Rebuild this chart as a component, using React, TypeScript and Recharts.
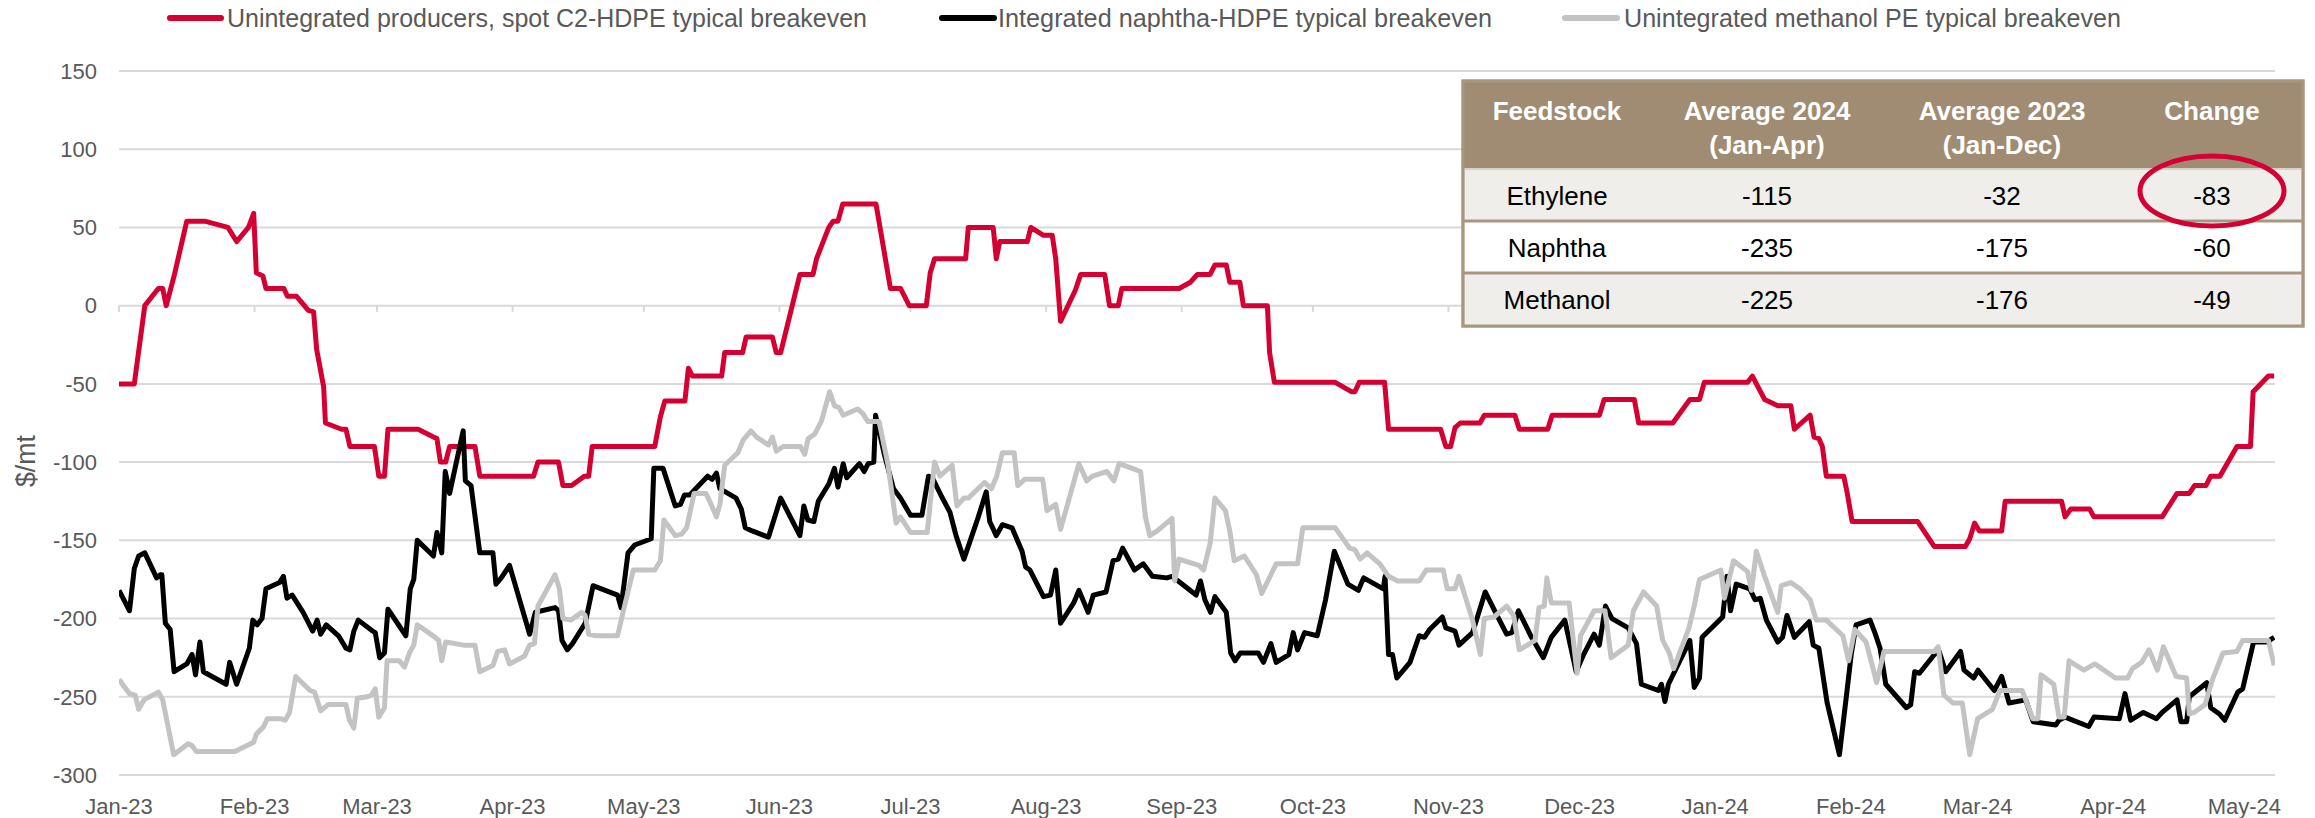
import React from 'react';
import { LineChart, Line, XAxis, YAxis, CartesianGrid, ReferenceLine } from 'recharts';

// x = days since 2023-01-01, y = $/mt
const MONTH_LABELS = ['Jan-23','Feb-23','Mar-23','Apr-23','May-23','Jun-23','Jul-23','Aug-23','Sep-23','Oct-23','Nov-23','Dec-23','Jan-24','Feb-24','Mar-24','Apr-24','May-24'];
const MONTH_DAYS = [0,31,59,90,120,151,181,212,243,273,304,334,365,396,425,456,486];
const Y_TICKS = [-300,-250,-200,-150,-100,-50,0,50,100,150];

const SERIES_NAMES = ['Unintegrated producers, spot C2-HDPE typical breakeven','Integrated naphtha-HDPE typical breakeven','Unintegrated methanol PE typical breakeven'];

const RED: [number, number][] = [
[0,-50],[3.5,-50],[5.9,0],[9,11],[10,11],[10.8,0],[12.6,19],[15.5,54],[19.6,54],[24.9,50],[26.9,41],[29.6,50],[30.8,59],[31.4,21],[32.9,19],[33.6,11],[37.7,11],[38.5,6],[40.6,6],[43.3,-3],[44.5,-4],[45.2,-28],[46.8,-52],[47.2,-75],[50.9,-79],[51.9,-79],[52.8,-90],[58.4,-90],[59.4,-109],[60.7,-109],[61.5,-79],[68.4,-79],[71.9,-84],[72.7,-85],[73.5,-100],[74.7,-100],[75.6,-90],[81.4,-90],[82.5,-109],[94.8,-109],[95.8,-100],[100.5,-100],[101.5,-115],[103.5,-115],[106.4,-109],[107.4,-109],[108.2,-90],[122.5,-90],
[123.8,-71],[124.8,-61],[129.4,-61],[130.2,-40],[131.1,-45],[137.8,-45],[138.5,-30],[142.6,-30],[143.4,-20],[149.4,-20],[150.3,-30],[151.3,-30],[155.7,20],[158.7,20],[159.5,30],[162.3,50],[163.3,54],[164.4,54],[165.5,65],[173.1,65],[176.4,11],[178.7,11],[180.7,0],[184.6,0],[185.5,21],[186.5,30],[193.6,30],[194.2,50],[199.9,50],[200.6,30],[201.4,41],[207.7,41],[208.5,50],[211.4,45],[213.4,45],[214.2,30],[215.3,-10],[218.7,10],[219.9,20],[225.4,20],[226.5,0],[228.5,0],[229.3,11],[242.4,11],
[245,15],[246.6,20],[249.5,20],[250.6,26],[253.2,26],[254,15],[256.3,15],[257.1,0],[262.6,0],[263.1,-30],[264.2,-49],[278.1,-49],[281.8,-55],[282.6,-55],[283.6,-49],[289.4,-49],[290.3,-79],[302.2,-79],[303.4,-90],[304.5,-90],[305.5,-78],[306.7,-75],[311.2,-75],[312.2,-70],[319.2,-70],[320.2,-79],[326.7,-79],[327.7,-70],[338.5,-70],[339.6,-60],[346.5,-60],[347.5,-75],[355.3,-75],[359.2,-60],[361.4,-60],[362.5,-49],
[372.4,-49],[373.5,-45],[374.6,-51],[376.3,-60],[379.3,-64],[382.3,-64],[383.1,-79],[386.7,-70],[387.6,-84],[388.7,-85],[389.5,-90],[390.4,-109],[394.4,-109],[395.2,-120],[396.3,-138],[411.3,-138],[415.1,-154],[422.2,-154],[423.2,-149],[424.3,-139],[425.4,-144],[430.5,-144],[431.3,-125],[444.2,-125],[445,-135],[446.3,-130],[450.6,-130],[451.6,-135],[467.2,-135],[470.6,-120],[473.4,-120],[474.6,-115],[477.2,-115],[478.3,-109],[480.4,-109],[484.3,-90],[487.4,-90],[488,-55],[491.5,-45],[492.8,-45]
];

const BLACK: [number, number][] = [
[0,-182],[2.4,-195],[3.5,-168],[4.5,-160],[5.9,-158],[8.6,-174],[9.4,-172],[9.8,-172],[10.6,-203],[11.7,-207],[12.6,-234],[15.5,-229],[16.7,-223],[17.5,-236],[18.5,-215],[19.3,-234],[24.5,-242],[25.3,-228],[26.9,-242],[29.8,-219],[30.6,-201],[31.6,-204],[32.7,-200],[33.6,-181],[36.7,-177],[37.6,-173],[38.4,-187],[39.6,-185],[42.1,-196],[44.3,-208],[45.3,-201],[46.1,-210],[47.4,-204],[50.2,-211],[51.9,-219],[52.8,-220],[53.7,-208],[54.7,-201],[58,-208],[58.6,-209],[59.6,-225],[60.7,-222],[61.5,-194],[65.6,-211],[66.6,-181],[67.4,-175],[68.2,-150],[71.9,-160],[72.7,-145],[73.8,-158],[74.6,-106],[75.6,-120],[78.7,-80],[79.2,-112],[80.5,-115],[82.5,-158],[85.5,-158],[86.2,-178],[87.4,-174],[89.3,-166],[93.9,-210],[95.2,-196],[99.7,-193],[100.5,-195],[101.3,-214],[102.5,-220],[103.7,-216],[106.6,-203],[108.4,-179],[110.3,-181],[114,-185],[114.8,-193],[116.4,-158],[117.9,-153],[121.7,-149],
[122.3,-104],[124.4,-104],[127.2,-128],[128.4,-127],[129.3,-121],[130.5,-121],[134.6,-109],[135.6,-111],[136.6,-107],[137.4,-117],[141.1,-123],[142.3,-130],[143.2,-142],[144.8,-144],[148.5,-148],[151.3,-123],[155.7,-147],[156.6,-128],[157.5,-137],[158.9,-138],[159.9,-125],[162.3,-114],[163.6,-104],[164.4,-116],[165.6,-101],[166.4,-110],[169.3,-101],[170.4,-106],[171.3,-101],[172.6,-100],[173,-70],[175,-95],[177.1,-117],[178.7,-123],[181,-134],[183.6,-134],[185.1,-109],[186,-110],[188.1,-122],[190,-132],[191.4,-147],[193.2,-162],[196.5,-135],[198.3,-119],[199.1,-138],[200.6,-147],[202,-140],[204.2,-142],[206.5,-157],[207.3,-167],[208.3,-169],[211.4,-186],[213,-185],[214.2,-169],[215.3,-203],[218.3,-190],[219.5,-182],[221.6,-196],[222.8,-185],[225.7,-183],[227.3,-163],[228.5,-162],[229.5,-155],[232.2,-169],[234.2,-165],[236.3,-173],[239.6,-174],[240.8,-173],[246.3,-185],[247.3,-176],[248.3,-188],[249.6,-196],
[250.6,-186],[253.2,-196],[254.2,-222],[255.2,-227],[256.4,-222],[260.5,-222],[261.7,-228],[263.4,-216],[264.6,-228],[267.5,-223],[268.5,-209],[269.5,-220],[271.1,-209],[274,-211],[275.9,-188],[277.9,-157],[281,-178],[283.4,-182],[284.6,-174],[289.1,-181],[289.5,-173],[290.3,-223],[291.2,-223],[292.2,-238],[295.2,-228],[297.3,-211],[298.5,-212],[299.7,-207],[302.6,-199],[303.4,-206],[305.5,-208],[306.4,-217],[309.5,-209],[312.4,-183],[315.1,-198],[317.3,-210],[318.5,-209],[320,-195],[323,-212],[325.7,-225],[327.5,-212],[330.6,-201],[333.2,-234],[334.9,-223],[337.3,-210],[338.5,-217],[339.9,-192],[341.4,-200],[345.1,-206],[347,-216],[348.1,-242],[352,-246],[352.7,-242],[353.5,-253],[354.3,-242],[359.2,-214],[360.2,-244],[361.4,-238],[362,-212],[366.7,-199],[367.7,-173],[368.5,-195],[369.8,-178],
[372.9,-181],[374.1,-188],[375.3,-187],[376.7,-201],[379.3,-215],[380.4,-212],[381.4,-198],[383.1,-212],[386.5,-202],[387.4,-217],[388.7,-219],[390.6,-254],[393.4,-287],[395.1,-247],[396.1,-223],[397.2,-204],[400.4,-201],[401.5,-209],[402.7,-219],[404,-242],[408.7,-257],[409.7,-255],[410.6,-234],[411.7,-235],[415.1,-223],[416.2,-221],[417.7,-234],[421.1,-221],[421.9,-233],[424.1,-238],[425.1,-233],[428.8,-246],[430.5,-237],[432.2,-254],[436,-252],[437.7,-266],[442.9,-268],[443.6,-265],[445,-263],[450.4,-269],[451.6,-263],[457.4,-264],[458.7,-248],[460,-265],[462.9,-260],[465.9,-264],[467.2,-260],[470.6,-252],[471.5,-266],[472.8,-266],[473.4,-250],[477.4,-241],[478.3,-257],[480.3,-261],[481.5,-265],[484.5,-247],[485.6,-245],[488.1,-215],[491.1,-215],[492.8,-212]
];

const GRAY: [number, number][] = [
[0,-239],[2.4,-248],[3.7,-249],[4.5,-258],[5.7,-252],[9,-247],[10,-252],[12.5,-287],[15.8,-280],[16.6,-281],[17.7,-285],[26.5,-285],[30.8,-279],[31.4,-274],[33.1,-269],[33.9,-264],[37,-264],[38,-265],[39,-260],[40.4,-237],[43.7,-246],[44.7,-247],[45.3,-252],[46.1,-259],[47.8,-255],[51.9,-255],[52.7,-265],[53.7,-270],[54.5,-251],[56.8,-250],[57.7,-249],[58.6,-245],[59.4,-263],[60.7,-257],[61.3,-227],[64.1,-227],[65.3,-231],[66.4,-222],[67.4,-217],[68.2,-204],[72.3,-212],[73.1,-214],[73.8,-227],[74.7,-215],[78.8,-217],[81.4,-217],[82.5,-234],[85.5,-230],[86.6,-221],[88.2,-220],[89.3,-229],[92.7,-224],[93.9,-217],[95,-216],[95.8,-192],[99.7,-172],[100.7,-181],[101.5,-200],[103.3,-201],[105.8,-196],[106.6,-198],[107.4,-210],[109.1,-211],[114,-211],[115.6,-192],[117.6,-169],[122.5,-169],
[123.8,-163],[124.6,-137],[127.2,-147],[128.7,-146],[129.8,-142],[131.5,-120],[134.2,-120],[135.4,-127],[136.6,-135],[137.4,-127],[138.5,-102],[141.5,-94],[142.7,-86],[144.5,-80],[145.8,-84],[148.5,-89],[149.4,-84],[150.3,-93],[151.9,-90],[155.8,-90],[156.8,-95],[157.6,-85],[159.1,-82],[160.6,-74],[162.5,-55],[163.6,-64],[164.6,-65],[165.6,-70],[168.9,-66],[170.1,-69],[171.2,-74],[173.8,-74],[175.8,-101],[177.7,-139],[178.7,-135],[181,-145],[184.8,-145],[186.5,-100],[187.7,-109],[190.5,-102],[191.6,-128],[193.2,-123],[194.2,-123],[197.9,-113],[199.5,-117],[200.7,-109],[202,-94],[204.7,-94],[205.5,-115],[207.1,-111],[211.2,-111],[212.2,-131],[214.2,-127],[215.3,-143],[219.5,-101],[221.3,-112],[222.6,-109],[225.9,-106],[227.5,-112],[228.7,-101],[232.6,-105],[233.6,-106],[234.7,-135],[235.7,-147],[237.4,-144],[240.8,-136],[241.4,-176],[242.4,-162],[246.9,-166],[248,-169],
[249.5,-152],[250.6,-123],[253,-131],[254,-144],[255,-163],[257.3,-160],[260.1,-172],[261.3,-184],[264.6,-165],[269.5,-165],[270.7,-142],[278.1,-142],[281.4,-155],[282.6,-156],[283.8,-162],[285.4,-158],[288.3,-165],[290.3,-173],[292.4,-176],[297.3,-176],[298.9,-169],[302.8,-169],[303.7,-181],[305.5,-181],[306.4,-173],[309.5,-201],[311.3,-223],[312.2,-200],[314.4,-199],[317.3,-192],[318.9,-198],[320.2,-220],[323.8,-214],[324.7,-193],[325.9,-192],[326.5,-174],[327.5,-190],[331.6,-190],[333.4,-235],[334.2,-211],[337.3,-195],[339.8,-195],[341.2,-225],[345.1,-217],[346.3,-195],[348.6,-183],[351.6,-192],[353,-214],[354.5,-222],[355.5,-232],[359,-206],[360.2,-192],[361.4,-175],[366.3,-169],[367.1,-187],[369.2,-163],
[372.4,-170],[373.3,-182],[374.4,-157],[376.3,-173],[379.3,-196],[380.1,-179],[382.3,-177],[384.4,-181],[386.7,-188],[388.1,-201],[390.4,-201],[394.2,-211],[395.5,-227],[396.9,-207],[399.5,-215],[400.9,-230],[401.9,-241],[403.6,-221],[415.1,-221],[416,-218],[417.3,-249],[419.4,-254],[421.5,-254],[423.2,-287],[425,-264],[428.4,-258],[430.1,-246],[435.2,-246],[437.6,-264],[438.8,-264],[439.5,-236],[442.4,-242],[443.6,-263],[444.8,-263],[445.9,-227],[449.3,-233],[451.8,-229],[456.5,-238],[459.3,-238],[460.4,-232],[462.5,-228],[464.2,-220],[466.1,-233],[467.5,-218],[470.4,-237],[472.8,-238],[473.4,-261],[474.5,-260],[477,-255],[478.7,-239],[481.1,-222],[484.3,-221],[485.6,-214],[491.5,-214],[492.8,-230]
];

const TABLE_HEADERS: string[][] = [['Feedstock'], ['Average 2024', '(Jan-Apr)'], ['Average 2023', '(Jan-Dec)'], ['Change']];
const TABLE_ROWS: string[][] = [
  ['Ethylene', '-115', '-32', '-83'],
  ['Naphtha', '-235', '-175', '-60'],
  ['Methanol', '-225', '-176', '-49'],
];

const RED_C = '#D50032';
const BLACK_C = '#000000';
const GRAY_C = '#C3C3C3';
const GRID_C = '#D9D9D9';
const TEXT_C = '#595959';
const TAN = '#9F8C72';
const TAN_LINE = '#A89780';
const ROW_BG = '#EFEEEA';
const FONT = '"Liberation Sans", Arial, sans-serif';

const toPts = (arr: [number, number][]) => arr.map(([d, v]) => ({ d, v }));

function Overlay() {
  const colX = [1557, 1767, 2002, 2212];
  const rowTop = [169, 221, 273];
  const rowH = [52, 52, 53];
  const legend = [
    { c: RED_C, x1: 170, x2: 221, tx: 227, tl: 640 },
    { c: BLACK_C, x1: 942, x2: 994, tx: 998, tl: 494 },
    { c: GRAY_C, x1: 1565, x2: 1617, tx: 1624, tl: 497 },
  ];
  return (
    <svg width={2315} height={818} style={{ position: 'absolute', left: 0, top: 0, pointerEvents: 'none' }}>
      {legend.map((l, i) => (
        <g key={i}>
          <line x1={l.x1} x2={l.x2} y1={18} y2={18} stroke={l.c} strokeWidth={6} strokeLinecap="round" />
          <text x={l.tx} y={27} fontFamily={FONT} fontSize={26} fill={TEXT_C} textLength={l.tl} lengthAdjust="spacingAndGlyphs">{SERIES_NAMES[i]}</text>
        </g>
      ))}
      <text transform="translate(35,461) rotate(-90)" textAnchor="middle" fontFamily={FONT} fontSize={27} fill={TEXT_C} textLength={52} lengthAdjust="spacingAndGlyphs">$/mt</text>
      {/* table */}
      <rect x={1463} y={81} width={840} height={245} fill="#fff" stroke={TAN_LINE} strokeWidth={3} />
      <rect x={1463} y={81} width={840} height={88} fill={TAN} />
      {rowTop.map((t, i) => (
        <rect key={i} x={1464.5} y={t} width={837} height={rowH[i]} fill={i === 1 ? '#FFFFFF' : ROW_BG} />
      ))}
      {rowTop.slice(1).map((t, i) => (
        <line key={i} x1={1463} x2={2303} y1={t} y2={t} stroke={TAN_LINE} strokeWidth={3} />
      ))}
      <line x1={1463} x2={2303} y1={169} y2={169} stroke="#D8D2C8" strokeWidth={2} />
      <rect x={1463} y={81} width={840} height={245} fill="none" stroke={TAN_LINE} strokeWidth={3} />
      {TABLE_HEADERS.map((h, i) => (
        <g key={i}>
          {h.map((line, j) => (
            <text key={j} x={colX[i]} y={120 + j * 34} textAnchor="middle" fontFamily={FONT} fontWeight="bold" fontSize={26} fill="#FFFFFF">{line}</text>
          ))}
        </g>
      ))}
      {TABLE_ROWS.map((r, i) => (
        <g key={i}>
          {r.map((cell, j) => (
            <text key={j} x={colX[j]} y={rowTop[i] + rowH[i] / 2 + 9.5} textAnchor="middle" fontFamily={FONT} fontSize={26} fill="#000000">{cell}</text>
          ))}
        </g>
      ))}
      <ellipse cx={2212} cy={191} rx={72} ry={35} fill="none" stroke={RED_C} strokeWidth={5} />
    </svg>
  );
}

export default function App() {
  return (
    <div style={{ position: 'absolute', left: 0, top: 0, width: 2315, height: 818, background: '#fff' }}>
      <LineChart width={2315} height={818} margin={{ top: 71, right: 40, bottom: 0, left: 0 }}>
        <CartesianGrid horizontal={true} vertical={false} stroke={GRID_C} strokeWidth={2} />
        <XAxis
          dataKey="d"
          type="number"
          domain={[0, 493]}
          ticks={MONTH_DAYS}
          allowDataOverflow
          tickFormatter={(v: number) => MONTH_LABELS[MONTH_DAYS.indexOf(v)] ?? ''}
          axisLine={false}
          tickLine={false}
          height={43}
          tickMargin={17}
          interval={0}
          tick={{ fill: TEXT_C, fontSize: 22, fontFamily: FONT }}
        />
        <YAxis
          type="number"
          domain={[-300, 150]}
          ticks={Y_TICKS}
          axisLine={false}
          tickLine={false}
          width={119}
          tickMargin={16}
          interval={0}
          tick={{ fill: TEXT_C, fontSize: 22, fontFamily: FONT }}
        />
        {MONTH_DAYS.map((d) => (
          <ReferenceLine key={d} segment={[{ x: d, y: 0 }, { x: d, y: -4 }]} stroke={GRID_C} strokeWidth={2} />
        ))}
        <Line data={toPts(RED)} dataKey="v" stroke={RED_C} strokeWidth={5} dot={false} isAnimationActive={false} strokeLinejoin="round" />
        <Line data={toPts(BLACK)} dataKey="v" stroke={BLACK_C} strokeWidth={5} dot={false} isAnimationActive={false} strokeLinejoin="round" />
        <Line data={toPts(GRAY)} dataKey="v" stroke={GRAY_C} strokeWidth={5} dot={false} isAnimationActive={false} strokeLinejoin="round" />
      </LineChart>
      <Overlay />
    </div>
  );
}
